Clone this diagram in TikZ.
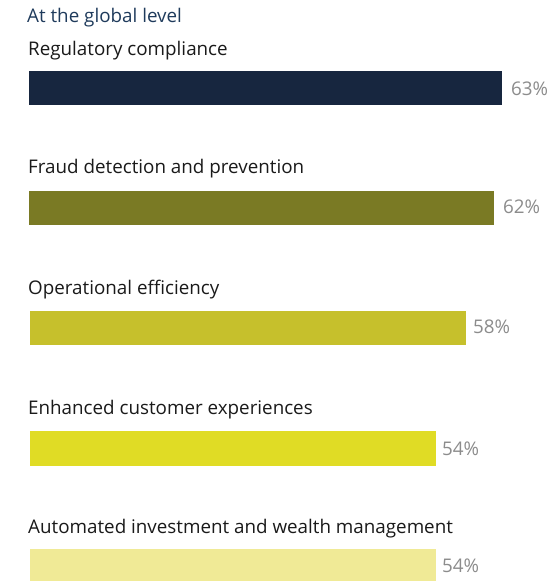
\documentclass[tikz,border=0pt]{standalone}
\usepackage{fontspec}
\setmainfont{Open Sans}
\definecolor{cA}{HTML}{17263F}
\definecolor{cB}{HTML}{7A7A24}
\definecolor{cC}{HTML}{C6C02C}
\definecolor{cD}{HTML}{E0DC25}
\definecolor{cE}{HTML}{F0EA96}
\definecolor{titlec}{HTML}{1F3B5C}
\definecolor{labc}{HTML}{1A1A1A}
\definecolor{pctc}{HTML}{8C8C8C}
\tikzset{
  lab/.style={anchor=base west,inner sep=0pt,text=labc,font=\fontsize{18.8}{21}\selectfont},
  pct/.style={anchor=west,inner sep=0pt,text=pctc,font=\fontsize{18.8}{21}\selectfont},
  bar/.style={draw=none}
}
\begin{document}
\begin{tikzpicture}[x=1pt,y=-1pt]
\path[fill=white,use as bounding box] (0,0) rectangle (553,581);
\node[lab,text=titlec] (title) at (27,22) {At the global level};
\node[lab] (l1) at (28,55) {Regulatory compliance};
\node[lab] (l2) at (28,173) {Fraud detection and prevention};
\node[lab] (l3) at (28,294) {Operational efficiency};
\node[lab] (l4) at (28,414) {Enhanced customer experiences};
\node[lab] (l5) at (28,533) {Automated investment and wealth management};
\fill[cA] (29,71) rectangle (502,105) coordinate (b1);
\fill[cB] (29,191) rectangle (494,225) coordinate (b2);
\fill[cC] (30,311) rectangle (466,345) coordinate (b3);
\fill[cD] (30,431) rectangle (436,466) coordinate (b4);
\fill[cE] (30,549) rectangle (436,581) coordinate (b5);
\node[pct] (p1) at (511,89) {63\%};
\node[pct] (p2) at (503,207) {62\%};
\node[pct] (p3) at (473,327) {58\%};
\node[pct] (p4) at (442,449) {54\%};
\node[pct] (p5) at (442,566) {54\%};
\end{tikzpicture}
\end{document}
